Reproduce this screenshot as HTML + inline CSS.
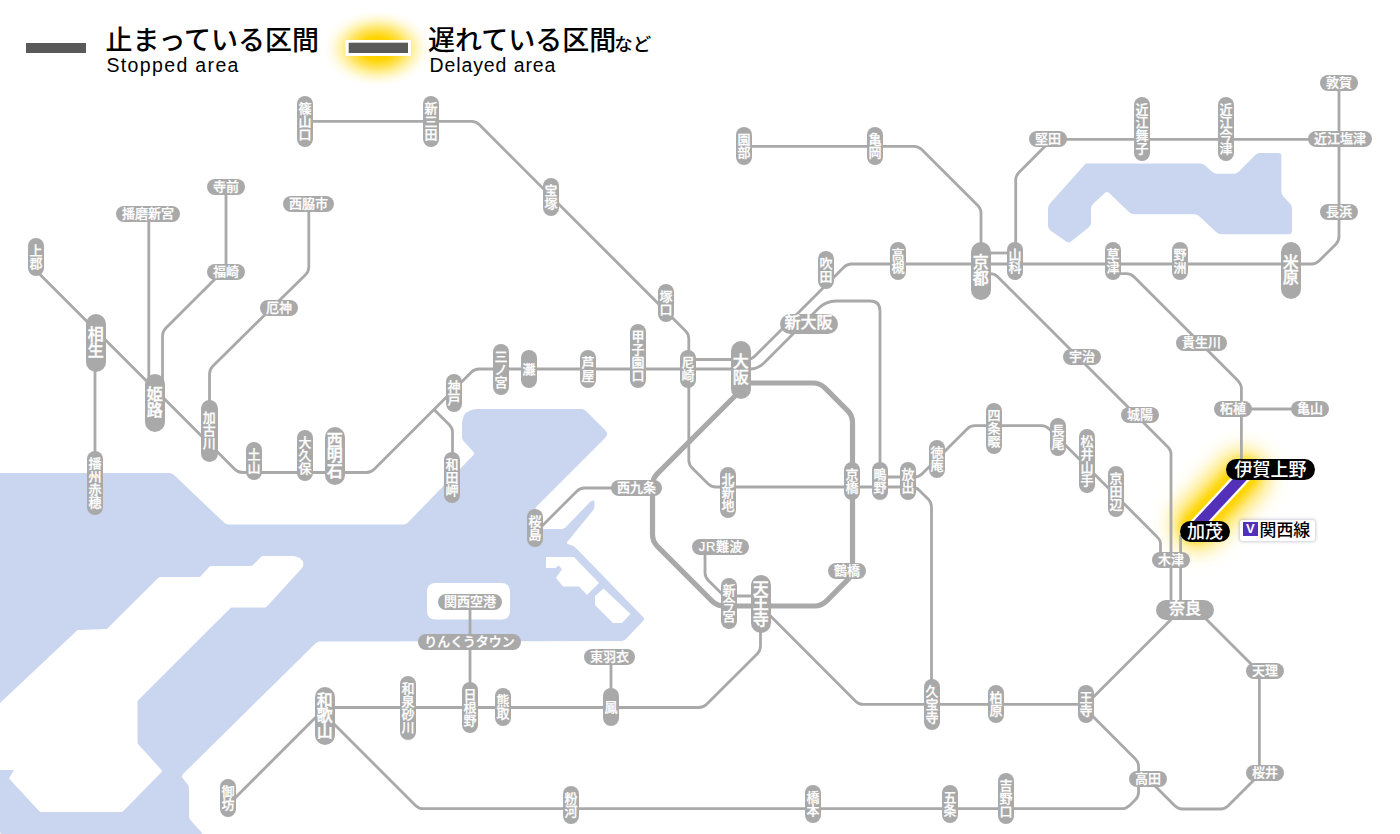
<!DOCTYPE html><html lang="ja"><head><meta charset="utf-8"><title>運行情報</title><style>

html,body{margin:0;padding:0;background:#fff}
body{width:1400px;height:834px;position:relative;overflow:hidden;font-family:"Liberation Sans","Noto Sans CJK JP",sans-serif}
.s{position:absolute;box-sizing:border-box;background:#a9a9a9;color:#fff;border-radius:12px;font-weight:500;display:flex;align-items:center;justify-content:center;white-space:nowrap;font-family:"Liberation Sans","Noto Sans CJK JP",sans-serif}
.s.n{font-size:13px;line-height:13px;-webkit-text-stroke:0.25px #fff}
.s.c{font-size:13px;line-height:13px;-webkit-text-stroke:0.25px #fff}
.s.m{font-size:16px;line-height:16px;font-weight:500;-webkit-text-stroke:0.35px #fff}
.s.k{font-size:18px;line-height:18px;background:#000;font-weight:500}
.s.v{flex-direction:column;text-align:center;white-space:normal;word-break:break-all;line-break:anywhere;padding:0 1px}
.s.h{padding-bottom:1px}
.s.h.k{padding-bottom:0}
.s.v.m{padding:0 1.5px;line-height:15.5px;letter-spacing:0}
.lg1{position:absolute;left:105.5px;top:22px;font-size:27px;line-height:38px;font-weight:500;color:#000;white-space:nowrap;font-family:"Liberation Sans","Noto Sans CJK JP",sans-serif}
.lg2{position:absolute;left:106.5px;top:53.5px;font-size:19.5px;line-height:22px;color:#000;white-space:nowrap;letter-spacing:1.35px}
.lg1 small{font-size:18.5px;font-weight:500;margin-left:-2px;position:relative;top:1px}
.kl{position:absolute;left:1240px;top:520px;width:74.5px;height:20.5px;background:#fff;border-radius:3px;box-shadow:0 0 3px 1px rgba(120,110,150,.35)}
.kv{position:absolute;left:1243px;top:522.4px;width:14.5px;height:14px;background:#5330b8;color:#fff;font-size:13px;line-height:14px;font-weight:700;text-align:center}
.kt{position:absolute;left:1259.5px;top:519px;font-size:16.9px;line-height:24px;color:#000;font-weight:500;white-space:nowrap;font-family:"Liberation Sans","Noto Sans CJK JP",sans-serif}

</style></head><body>
<svg width="1400" height="834" viewBox="0 0 1400 834" style="position:absolute;left:0;top:0">
<defs><filter id="gl" x="-100%" y="-150%" width="300%" height="400%"><feGaussianBlur stdDeviation="10"/></filter><filter id="gl2" x="-100%" y="-150%" width="300%" height="400%"><feGaussianBlur stdDeviation="4"/></filter><radialGradient id="lg"><stop offset="0" stop-color="#ffd000"/><stop offset="0.3" stop-color="#ffd400"/><stop offset="0.5" stop-color="#ffd91f" stop-opacity="0.75"/><stop offset="0.7" stop-color="#ffe033" stop-opacity="0.36"/><stop offset="0.88" stop-color="#ffe866" stop-opacity="0.1"/><stop offset="1" stop-color="#ffe866" stop-opacity="0"/></radialGradient></defs>
<path d="M0.0,473.0 L169.5,473.0 Q172.0,473.0 173.8,474.7 L224.2,522.8 Q226.0,524.5 228.5,524.5 L403.5,524.5 Q406.0,524.5 407.7,522.7 L473.3,455.3 Q475.0,453.5 473.3,451.7 L463.7,441.3 Q462.0,439.5 462.0,437.0 L462.0,423.5 Q462.0,421.0 462.9,418.7 L464.1,415.3 Q465.0,413.0 467.3,412.0 L471.7,410.0 Q474.0,409.0 476.5,409.0 L581.5,409.0 Q584.0,409.0 585.8,410.8 L604.8,429.8 Q606.0,431.0 606.8,432.5 L606.8,432.5 Q607.5,434.0 606.8,435.5 L606.8,435.5 Q606.0,437.0 604.8,438.2 L536.8,506.2 Q535.0,508.0 535.0,510.5 L535.0,526.5 Q535.0,529.0 537.5,529.0 L561.5,529.0 Q564.0,529.0 565.7,527.2 L589.7,502.3 Q591.0,501.0 592.8,500.5 L592.8,500.5 Q594.5,500.0 594.5,501.8 L594.5,506.0 Q594.5,508.5 592.9,510.4 L567.6,541.6 Q566.0,543.5 568.4,544.2 L571.6,545.3 Q574.0,546.0 575.7,547.8 L643.3,617.2 Q645.0,619.0 643.3,620.8 L625.7,639.2 Q624.0,641.0 621.5,641.0 L320.0,641.5 Q317.5,641.5 315.7,643.3 L182.8,774.2 Q181.0,776.0 182.6,778.0 L187.4,784.0 Q189.0,786.0 189.0,788.5 L189.0,816.0 Q189.0,818.5 190.7,820.4 L201.3,832.1 Q203.0,834.0 200.5,834.0 L2.5,834.0 Q0.0,834.0 0.0,831.5 L0.0,473.0 Z" fill="#cad6ef"/>
<path d="M262.0,556.0 L293.0,556.0 Q294.0,556.0 294.9,556.3 L299.1,557.7 Q300.0,558.0 300.7,558.8 L302.8,561.2 Q303.5,562.0 303.4,563.0 L303.1,566.0 Q303.0,567.0 302.3,567.7 L266.7,606.8 Q266.0,607.5 265.0,607.5 L232.0,607.5 Q231.0,607.5 230.3,608.2 L138.2,700.3 Q137.5,701.0 137.5,702.0 L137.5,742.5 Q137.5,743.5 138.2,744.2 L161.8,770.3 Q162.5,771.0 161.8,771.7 L123.2,811.3 Q122.5,812.0 121.5,812.0 L41.0,812.0 Q40.0,812.0 39.3,811.3 L9.7,779.2 Q9.0,778.5 9.5,777.6 L13.5,770.9 Q14.0,770.0 13.0,770.0 L-1.0,770.0 Q-2.0,770.0 -2.0,769.0 L-2.0,706.0 Q-2.0,705.0 -1.3,704.3 L76.8,630.7 Q77.5,630.0 78.5,630.0 L106.0,629.0 Q107.0,629.0 107.7,628.3 L158.3,577.7 Q159.0,577.0 160.0,577.0 L199.0,577.0 Q200.0,577.0 200.7,576.3 L209.3,566.7 Q210.0,566.0 211.0,566.0 L251.0,566.0 Q252.0,566.0 252.7,565.3 L262.0,556.0" fill="#fff"/>
<path d="M546.0,557.0 L574.0,557.0 L599.0,583.0 L587.0,595.0 L579.0,586.5 L563.0,586.5 L556.0,578.0 L562.0,569.0 L558.5,565.5 L555.5,568.0 L546.0,568.0 Z" fill="#fff"/>
<path d="M603.5,588.5 L630.5,614.0 L622.0,623.0 L613.0,623.0 L595.0,605.0 L595.0,596.0 Z" fill="#fff"/>
<rect x="427" y="583" width="83" height="36.5" rx="8" fill="#fff"/>
<path d="M1085.7,163.4 L1200.0,163.4 Q1203.0,163.4 1205.2,165.5 L1211.8,171.6 Q1214.0,173.7 1217.0,173.7 L1234.0,173.7 Q1237.0,173.7 1239.1,171.5 L1254.9,155.2 Q1257.0,153.0 1260.0,153.0 L1278.4,153.0 Q1281.4,153.0 1281.4,156.0 L1281.4,191.3 Q1281.4,194.3 1283.4,196.5 L1290.0,203.5 Q1292.0,205.7 1292.0,208.7 L1292.0,231.3 Q1292.0,234.3 1289.0,234.3 L1221.6,234.3 Q1218.6,234.3 1216.4,232.3 L1199.2,216.3 Q1197.0,214.3 1194.0,214.3 L1134.4,214.3 Q1131.4,214.3 1129.2,212.2 L1109.2,193.1 Q1107.0,191.0 1104.8,193.0 L1093.2,203.7 Q1091.0,205.7 1091.0,208.7 L1091.0,222.7 Q1091.0,225.7 1088.6,227.6 L1071.0,241.5 Q1068.6,243.4 1066.2,241.6 L1050.4,230.4 Q1048.0,228.6 1048.0,225.6 L1048.0,208.7 Q1048.0,205.7 1050.0,203.5 L1085.7,163.4" fill="#cad6ef"/>
<ellipse cx="377.5" cy="48.5" rx="54" ry="38" fill="url(#lg)"/>
<g filter="url(#gl)"><path d="M1243,476 L1198,524" stroke="#ffe14d" stroke-width="52" stroke-linecap="round" fill="none"/></g>
<g filter="url(#gl2)"><path d="M1245,474 L1196,526" stroke="#ffd400" stroke-width="30" stroke-linecap="round" fill="none"/></g>
<g fill="none" stroke="#a9a9a9" stroke-width="2.8" stroke-linejoin="round">
<path d="M305.0,121.4 L471.5,121.4 Q476.0,121.4 479.2,124.6 L685.6,330.9 Q688.8,334.1 688.8,338.6 L688.8,360.0"/>
<path d="M688.8,380.0 L688.8,460.0 Q688.8,464.5 691.9,467.7 L708.0,483.8 Q711.2,487.0 715.7,487.0 L911.5,487.0 Q916.0,487.0 919.2,490.2 L928.3,499.3 Q931.5,502.5 931.5,507.0 L931.5,690.0"/>
<path d="M880.0,477.0 L914.5,477.0 Q919.0,477.0 922.2,473.8 L967.1,428.9 Q970.3,425.7 974.8,425.7 L1041.5,425.7 Q1046.0,425.7 1049.2,428.9 L1155.5,535.2 Q1157.3,537.0 1158.9,539.0 L1158.9,539.0 Q1160.5,541.0 1160.5,543.6 L1160.5,560.0"/>
<path d="M36.0,270.5 L234.8,469.3 Q238.0,472.5 242.5,472.5 L366.5,472.5 Q371.0,472.5 374.2,469.3 L471.3,372.2 Q474.5,369.0 479.0,369.0 L745.0,369.0"/>
<path d="M741.0,369.0 L749.5,369.0 Q758.0,369.0 764.0,363.0 L818.9,308.1 Q826.0,301.0 836.0,301.0 L870.0,301.0 Q880.0,301.0 880.0,311.0 L880.0,470.0"/>
<path d="M688.0,359.5 L747.0,359.5 Q751.5,359.5 754.7,356.3 L843.8,267.2 Q847.0,264.0 851.5,264.0 L1311.5,264.0 Q1316.0,264.0 1319.2,260.8 L1335.8,244.2 Q1339.0,241.0 1339.0,236.5 L1339.0,85.0"/>
<path d="M434.0,409.5 L449.3,424.8 Q452.5,428.0 452.5,432.5 L452.5,460.0"/>
<path d="M148.8,215.0 L148.8,380.0"/>
<path d="M226.0,188.0 L226.0,263.5 Q226.0,268.0 222.8,271.2 L165.7,328.3 Q162.5,331.5 162.5,336.0 L162.5,380.0"/>
<path d="M308.8,206.0 L308.8,267.0 Q308.8,271.5 305.5,274.7 L212.7,366.3 Q209.5,369.5 209.5,374.0 L209.5,410.0"/>
<path d="M95.0,360.0 L95.0,460.0"/>
<path d="M537.0,531.0 L576.8,491.2 Q580.0,488.0 584.5,488.0 L620.0,488.0"/>
<path d="M705.0,548.0 L705.0,572.5 Q705.0,577.0 708.2,580.2 L720.8,592.8 Q724.0,596.0 728.5,596.0 L760.0,596.0"/>
<path d="M760.5,625.0 L760.5,646.0 Q760.5,650.5 757.3,653.7 L706.7,704.3 Q703.5,707.5 699.0,707.5 L325.0,707.5"/>
<path d="M470.0,603.0 L470.0,700.0"/>
<path d="M611.0,658.0 L611.0,700.0"/>
<path d="M765.0,610.5 L855.6,701.2 Q858.8,704.4 863.3,704.4 L1081.5,704.4 Q1086.0,704.4 1089.2,701.2 L1180.0,610.4"/>
<path d="M1171.0,560.0 L1171.0,610.0"/>
<path d="M1180.6,535.0 L1180.6,610.0"/>
<path d="M980.0,273.7 L990.2,273.7 Q994.7,273.7 997.9,276.9 L1167.4,446.4 Q1169.0,448.0 1170.0,450.0 L1170.0,450.0 Q1171.0,452.0 1171.0,454.2 L1171.0,560.0"/>
<path d="M1113.0,273.7 L1126.5,273.7 Q1131.0,273.7 1134.2,276.9 L1237.3,380.0 Q1239.0,381.7 1240.2,383.9 L1240.2,383.9 Q1241.4,386.0 1241.4,388.5 L1241.4,465.0"/>
<path d="M1235.0,409.0 L1305.0,409.0"/>
<path d="M1015.7,255.0 L1015.7,180.2 Q1015.7,175.7 1018.9,172.5 L1048.8,142.6 Q1052.0,139.4 1056.5,139.4 L1335.0,139.4"/>
<path d="M744.0,146.3 L914.0,146.3 Q918.5,146.3 921.7,149.5 L977.8,205.6 Q981.0,208.8 981.0,213.3 L981.0,255.0"/>
<path d="M985.0,253.0 L1012.0,253.0"/>
<path d="M1200.0,613.0 L1256.1,669.1 Q1257.5,670.5 1258.5,672.2 L1258.5,672.2 Q1259.4,674.0 1259.4,676.0 L1259.4,770.0 Q1259.4,774.5 1256.2,777.7 L1228.2,805.8 Q1225.0,809.0 1220.5,809.0 L1182.5,809.0 Q1178.0,809.0 1174.8,805.8 L1147.0,778.0"/>
<path d="M1088.0,711.5 L1135.4,758.9 Q1138.6,762.1 1138.6,766.6 L1138.6,792.0 Q1138.6,796.5 1135.4,799.7 L1129.5,805.5 Q1126.3,808.7 1121.8,808.7 L423.2,808.7 Q418.7,808.7 415.5,805.5 L325.0,715.0"/>
<path d="M228.0,805.0 L322.0,711.0"/>
</g>
<g fill="none" stroke="#a9a9a9" stroke-width="5.2" stroke-linejoin="round">
<path d="M741.0,383.0 L813.0,383.0 Q820.0,383.0 824.9,387.9 L847.6,410.6 Q852.5,415.5 852.5,422.5 L852.5,568.0 Q852.5,575.0 847.6,579.9 L826.4,601.1 Q821.5,606.0 814.5,606.0 L724.0,606.0 Q717.0,606.0 712.1,601.1 L657.4,546.4 Q652.5,541.5 652.5,534.5 L652.5,485.5 Q652.5,478.5 657.4,473.6 L741.0,390.0"/>
</g>
<path d="M1249.5,469 L1191,532" stroke="#fff" stroke-width="15.4" fill="none"/>
<path d="M1249.5,469 L1191,532" stroke="#5330b8" stroke-width="10.8" fill="none"/>
<rect x="26" y="43" width="60" height="10" fill="#595959"/>
<rect x="345.5" y="40" width="65.5" height="16" fill="#fff"/>
<rect x="348.7" y="42.7" width="59.3" height="10.3" fill="#595959"/>
</svg>
<div class="lg1">止まっている区間</div><div class="lg2">Stopped area</div>
<div class="lg1" style="left:428px">遅れている区間<small>など</small></div><div class="lg2" style="left:429.5px;letter-spacing:0.9px">Delayed area</div>
<div class="s h n" style="left:207px;top:179px;width:38px;height:16px">寺前</div>
<div class="s h n" style="left:116px;top:206px;width:64px;height:16px">播磨新宮</div>
<div class="s h n" style="left:283px;top:196px;width:51px;height:16px">西脇市</div>
<div class="s h n" style="left:207px;top:264px;width:38px;height:16px">福崎</div>
<div class="s h n" style="left:260px;top:300px;width:38px;height:16px">厄神</div>
<div class="s v n" style="left:28px;top:238px;width:16px;height:38px">上郡</div>
<div class="s v m" style="left:86px;top:314px;width:19.5px;height:57.5px">相生</div>
<div class="s v m" style="left:145px;top:374px;width:19.5px;height:57.5px">姫路</div>
<div class="s v c" style="left:201px;top:399.5px;width:16.5px;height:62px">加古川</div>
<div class="s v n" style="left:246px;top:442px;width:16px;height:38px">土山</div>
<div class="s v n" style="left:297px;top:430px;width:16px;height:51px">大久保</div>
<div class="s v m" style="left:325px;top:427px;width:19.5px;height:57.5px">西明石</div>
<div class="s v n" style="left:87px;top:451px;width:16px;height:64px">播州赤穂</div>
<div class="s v n" style="left:297px;top:96px;width:16px;height:51px">篠山口</div>
<div class="s v n" style="left:423px;top:96px;width:16px;height:51px">新三田</div>
<div class="s v n" style="left:543px;top:178px;width:16px;height:38px">宝塚</div>
<div class="s v n" style="left:658px;top:284px;width:16px;height:38px">塚口</div>
<div class="s v n" style="left:630px;top:324px;width:16px;height:64px">甲子園口</div>
<div class="s v n" style="left:680px;top:350px;width:16px;height:38px">尼崎</div>
<div class="s v n" style="left:580px;top:350px;width:16px;height:38px">芦屋</div>
<div class="s v n" style="left:521px;top:350px;width:16px;height:38px">灘</div>
<div class="s v n" style="left:493px;top:344px;width:16px;height:51px">三ノ宮</div>
<div class="s v n" style="left:446px;top:374px;width:16px;height:38px">神戸</div>
<div class="s v n" style="left:444px;top:452px;width:16px;height:51px">和田岬</div>
<div class="s v n" style="left:527px;top:509px;width:16px;height:38px">桜島</div>
<div class="s h n" style="left:611px;top:480px;width:51px;height:16px">西九条</div>
<div class="s h n" style="left:438px;top:594px;width:64px;height:16px">関西空港</div>
<div class="s h n" style="left:418px;top:634px;width:103px;height:16px">りんくうタウン</div>
<div class="s h n" style="left:584px;top:649px;width:51px;height:16px">東羽衣</div>
<div class="s v n" style="left:400px;top:676px;width:16px;height:64px">和泉砂川</div>
<div class="s v n" style="left:462px;top:682px;width:16px;height:51px">日根野</div>
<div class="s v n" style="left:495px;top:688px;width:16px;height:38px">熊取</div>
<div class="s v n" style="left:603px;top:688px;width:16px;height:38px">鳳</div>
<div class="s v m" style="left:315px;top:687px;width:19.5px;height:57.5px">和歌山</div>
<div class="s v n" style="left:220px;top:779px;width:16px;height:38px">御坊</div>
<div class="s v n" style="left:563px;top:786px;width:16px;height:38px">粉河</div>
<div class="s v n" style="left:805px;top:785px;width:16px;height:38px">橋本</div>
<div class="s v n" style="left:942px;top:785px;width:16px;height:38px">五条</div>
<div class="s v n" style="left:998px;top:773px;width:16px;height:51px">吉野口</div>
<div class="s v n" style="left:736px;top:127px;width:16px;height:38px">園部</div>
<div class="s v n" style="left:867px;top:127px;width:16px;height:38px">亀岡</div>
<div class="s v n" style="left:818px;top:251px;width:16px;height:38px">吹田</div>
<div class="s v n" style="left:890px;top:242px;width:16px;height:38px">高槻</div>
<div class="s v m" style="left:971px;top:242px;width:19.5px;height:57.5px">京都</div>
<div class="s v n" style="left:1007px;top:242px;width:16px;height:38px">山科</div>
<div class="s h m" style="left:779.5px;top:314px;width:58px;height:19.5px">新大阪</div>
<div class="s v m" style="left:731px;top:341px;width:19.5px;height:57.5px">大阪</div>
<div class="s v n" style="left:929px;top:440px;width:16px;height:38px">徳庵</div>
<div class="s v n" style="left:986px;top:403px;width:16px;height:51px">四条畷</div>
<div class="s v n" style="left:844px;top:462px;width:16px;height:38px">京橋</div>
<div class="s v n" style="left:872px;top:462px;width:16px;height:38px">鴫野</div>
<div class="s v n" style="left:900px;top:462px;width:16px;height:38px">放出</div>
<div class="s v n" style="left:720px;top:467px;width:16px;height:51px">北新地</div>
<div class="s h n" style="left:692px;top:539px;width:57px;height:16px;letter-spacing:0.6px;padding-left:1px">JR難波</div>
<div class="s h n" style="left:828px;top:563px;width:38px;height:16px">鶴橋</div>
<div class="s v n" style="left:721px;top:578px;width:16px;height:51px">新今宮</div>
<div class="s v m" style="left:751px;top:575px;width:19.5px;height:57.5px">天王寺</div>
<div class="s v n" style="left:924px;top:679px;width:16px;height:51px">久宝寺</div>
<div class="s v n" style="left:988px;top:685px;width:16px;height:38px">柏原</div>
<div class="s h n" style="left:1320px;top:75px;width:38px;height:16px">敦賀</div>
<div class="s h n" style="left:1308px;top:131px;width:64px;height:16px">近江塩津</div>
<div class="s h n" style="left:1029px;top:131px;width:38px;height:16px">堅田</div>
<div class="s v n" style="left:1134px;top:97px;width:16px;height:64px">近江舞子</div>
<div class="s v n" style="left:1218px;top:97px;width:16px;height:64px">近江今津</div>
<div class="s h n" style="left:1320px;top:204px;width:38px;height:16px">長浜</div>
<div class="s v n" style="left:1105px;top:242px;width:16px;height:38px">草津</div>
<div class="s v n" style="left:1172px;top:242px;width:16px;height:38px">野洲</div>
<div class="s v m" style="left:1281px;top:241.5px;width:19.5px;height:57.5px">米原</div>
<div class="s h n" style="left:1176px;top:335px;width:51px;height:16px">貴生川</div>
<div class="s h n" style="left:1063px;top:349px;width:38px;height:16px">宇治</div>
<div class="s h n" style="left:1121px;top:407px;width:38px;height:16px">城陽</div>
<div class="s h n" style="left:1214px;top:401px;width:38px;height:16px">柘植</div>
<div class="s h n" style="left:1291px;top:401px;width:38px;height:16px">亀山</div>
<div class="s v n" style="left:1050px;top:418px;width:16px;height:38px">長尾</div>
<div class="s v n" style="left:1079px;top:429px;width:16px;height:64px">松井山手</div>
<div class="s v n" style="left:1108px;top:466px;width:16px;height:51px">京田辺</div>
<div class="s h n" style="left:1152px;top:552px;width:38px;height:16px">木津</div>
<div class="s h m" style="left:1156px;top:600px;width:58px;height:19.5px">奈良</div>
<div class="s h n" style="left:1246px;top:663px;width:38px;height:16px">天理</div>
<div class="s v n" style="left:1078px;top:685px;width:16px;height:38px">王寺</div>
<div class="s h n" style="left:1129px;top:771px;width:38px;height:16px">高田</div>
<div class="s h n" style="left:1246px;top:765px;width:38px;height:16px">桜井</div>
<div class="s h k" style="left:1226px;top:459px;width:89px;height:21px">伊賀上野</div>
<div class="s h k" style="left:1180px;top:521px;width:50px;height:21px">加茂</div>
<div class="kl"></div><div class="kv">V</div><div class="kt">関西線</div>
</body></html>
